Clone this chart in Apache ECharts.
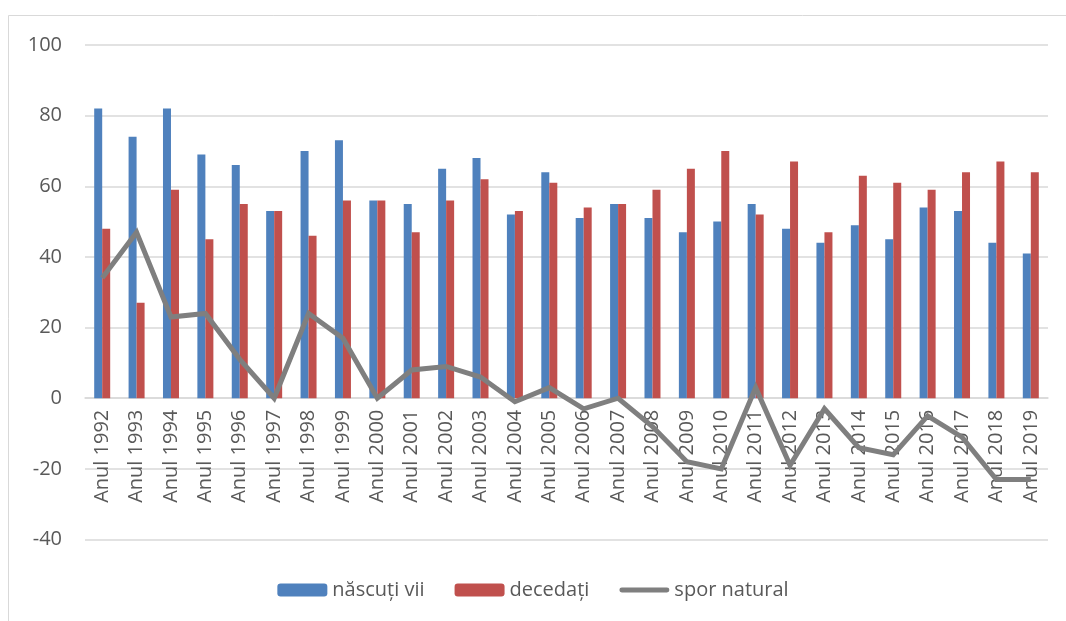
<!DOCTYPE html>
<html>
<head>
<meta charset="utf-8">
<script src="https://cdn.jsdelivr.net/npm/echarts@6/dist/echarts.min.js"></script>
<style>
  html, body { margin: 0; padding: 0; background: #fff; }
  #main { width: 1066px; height: 621px; }
</style>
</head>
<body>
<div id="main"></div>
<script>
var years = ['Anul 1992','Anul 1993','Anul 1994','Anul 1995','Anul 1996','Anul 1997','Anul 1998',
  'Anul 1999','Anul 2000','Anul 2001','Anul 2002','Anul 2003','Anul 2004','Anul 2005','Anul 2006',
  'Anul 2007','Anul 2008','Anul 2009','Anul 2010','Anul 2011','Anul 2012','Anul 2013','Anul 2014',
  'Anul 2015','Anul 2016','Anul 2017','Anul 2018','Anul 2019'];
var nascuti = [82,74,82,69,66,53,70,73,56,55,65,68,52,64,51,55,51,47,50,55,48,44,49,45,54,53,44,41];
var decedati = [48,27,59,45,55,53,46,56,56,47,56,62,53,61,54,55,59,65,70,52,67,47,63,61,59,64,67,64];
var spor = [34,47,23,24,11,0,24,17,0,8,9,6,-1,3,-3,0,-8,-18,-20,3,-19,-3,-14,-16,-5,-11,-23,-23];

var font = '"Open Sans", "DejaVu Sans", sans-serif';
var myChart = echarts.init(document.getElementById('main'));

var option = {
    backgroundColor: '#fff',
    animation: false,
    textStyle: { fontFamily: font, color: '#595959' },
    graphic: [{
        type: 'rect',
        shape: { x: 8.5, y: 15.5, width: 1080, height: 640 },
        style: { fill: 'none', stroke: '#d9d9d9', lineWidth: 1 },
        silent: true
    }],
    grid: { left: 85, right: 18, top: 45, bottom: 81.5, containLabel: false, outerBoundsMode: 'none' },
    legend: {
        bottom: 16,
        left: 'center',
        itemWidth: 50,
        itemHeight: 13,
        itemGap: 30,
        textStyle: { fontFamily: font, fontSize: 20, color: '#595959' },
        data: [
            'născuți vii',
            'decedați',
            // thick gray bar as line key, like the original
            { name: 'spor natural', icon: 'path://M2,0 L48,0 A2.5,2.5 0 0 1 48,5 L2,5 A2.5,2.5 0 0 1 2,0 Z' }
        ]
    },
    xAxis: {
        type: 'category',
        data: years,
        // labels hang just under the 0 line (140 units * 141.8px range -> 40 units up)
        offset: -141.8,
        axisLine: { onZero: false, lineStyle: { color: '#d9d9d9', width: 1.5 } },
        axisTick: { show: false },
        axisLabel: {
            rotate: 90,
            interval: 0,
            margin: 12,
            fontFamily: font,
            fontSize: 20,
            color: '#595959'
        }
    },
    yAxis: {
        type: 'value',
        min: -40,
        max: 100,
        interval: 20,
        axisLine: { show: false },
        axisTick: { show: false },
        splitLine: { lineStyle: { color: '#d9d9d9', width: 1.5 } },
        axisLabel: { margin: 23, fontFamily: font, fontSize: 20, color: '#595959' }
    },
    series: [
        {
            name: 'născuți vii',
            type: 'bar',
            data: nascuti,
            barWidth: 8,
            barGap: '0%',
            itemStyle: { color: '#4f81bd' }
        },
        {
            name: 'decedați',
            type: 'bar',
            data: decedati,
            barWidth: 8,
            itemStyle: { color: '#c0504d' }
        },
        {
            name: 'spor natural',
            type: 'line',
            data: spor,
            symbol: 'none',
            z: 5,
            lineStyle: { color: '#7f7f7f', width: 5, join: 'miter' },
            itemStyle: { color: '#7f7f7f' }
        }
    ]
};

myChart.setOption(option);
</script>
</body>
</html>
